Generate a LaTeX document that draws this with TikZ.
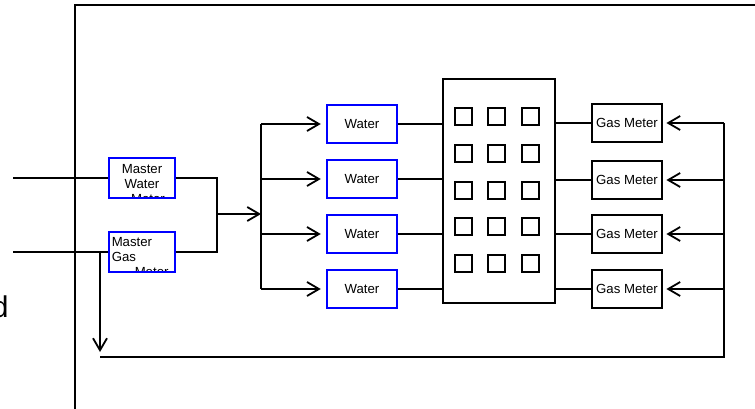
\documentclass[tikz,border=0pt]{standalone}
\usepackage{fontspec}
\setmainfont{Liberation Sans}
\usetikzlibrary{arrows.meta}

\begin{document}
\begin{tikzpicture}[x=1pt,y=-1pt,line width=1.8pt,
        txt/.style={font=\fontsize{13.2}{15}\selectfont},
        bluebox/.style={draw=blue,line width=1.5pt,inner sep=0pt,minimum width=70pt,minimum height=38pt,txt},
        gasbox/.style={draw=black,inner sep=0pt,minimum width=70pt,minimum height=38pt,txt},
        arr/.style={-{Straight Barb[length=12pt,width=14pt]}}]
            \useasboundingbox (0,0) rectangle (755,409);

            % frame
            \draw (75,409) -- (75,5) -- (755,5);
            \node[anchor=base east,inner sep=0pt,font=\fontsize{30}{36}\selectfont] (lbl) at (9.5,317) {d};

            % master meters
            \node (mwater) at (142,178) [bluebox,minimum width=66pt,minimum height=40pt,
                path picture={\node[anchor=north,align=center,inner sep=0pt,txt] at ([yshift=-5.2pt]path picture bounding box.north) {Master\\Water\\\hspace*{0.9em}Meter};}] {};
            \node (mgas) at (142,252) [bluebox,minimum width=66pt,minimum height=40pt,
                path picture={\node[anchor=north west,text width=64pt,align=left,inner sep=0pt,txt] at ([xshift=1pt,yshift=-4.5pt]path picture bounding box.north west) {Master\\Gas\\\hspace*{23pt}Meter};}] {};

            \coordinate (inW) at (13,178);
            \coordinate (inG) at (13,252);
            \coordinate (jn) at (217,214);
            \coordinate (splitT) at (261,124);
            \coordinate (splitB) at (261,289);
            \coordinate (gd) at (100,252);
            \coordinate (gdEnd) at (100,352);
            \coordinate (bl) at (100,357);
            \coordinate (br) at (724,357);
            \coordinate (rT) at (724,123);

            \draw (inW) -- (mwater);
            \draw (inG) -- (mgas);
            \draw (mwater) -| (jn);
            \draw (mgas) -| (jn);
            \draw[arr] (jn) -- (jn -| splitT);
            \draw (splitT) -- (splitB);
            \draw[arr] (gd) -- (gdEnd);
            \draw (bl) -- (br) -- (rT);

            % building
            \node (bldg) at (499,191) [draw,inner sep=0pt,minimum width=112pt,minimum height=224pt] {};
            \foreach \cx in {455,488,522}
              \foreach \cy in {108,145,182,218,255}
                \draw (\cx,\cy) rectangle ++(17,17);

            % water meters and gas meters
            \foreach \i/\wy/\gy in {1/124/123,2/179/180,3/234/234,4/289/289}{
              \node (w\i) at (362,\wy) [bluebox] {Water};
              \node (g\i) at (627,\gy) [gasbox] {Gas Meter};
              \draw[arr,shorten >=5.5pt] (splitT |- w\i) -- (w\i.west);
              \draw (w\i) -- (w\i -| bldg.west);
              \draw (g\i -| bldg.east) -- (g\i);
              \draw[arr,shorten >=3.5pt] (rT |- g\i) -- (g\i.east);
            }
\end{tikzpicture}
\end{document}
